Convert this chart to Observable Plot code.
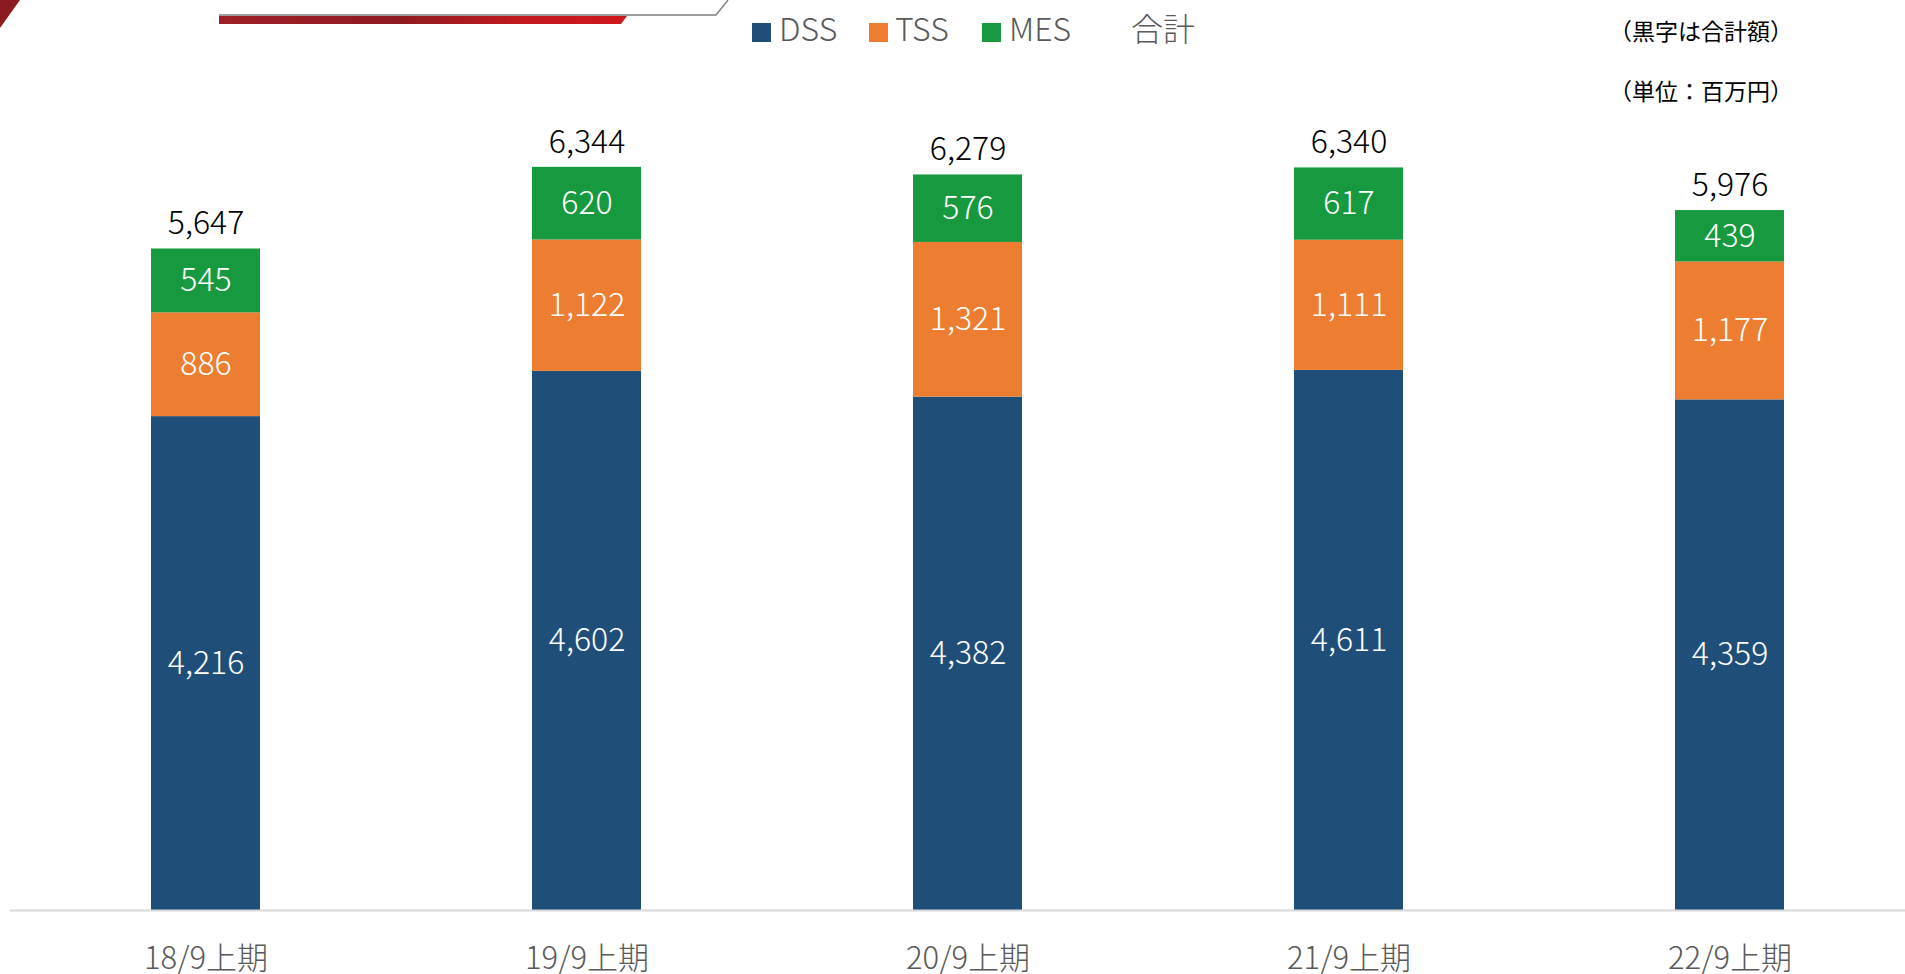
<!DOCTYPE html>
<html><head><meta charset="utf-8">
<script src="https://cdn.jsdelivr.net/npm/d3@7"></script>
<script src="https://cdn.jsdelivr.net/npm/@observablehq/plot@0.6"></script>
<style>
html,body{margin:0;padding:0;background:#fff;overflow:hidden;}
#wrap{position:relative;width:1905px;height:974px;}
#wrap > svg{display:block;}
#overlay{position:absolute;left:0;top:0;}
</style></head><body><div id="wrap"></div>
<script>
const periods = ["18/9上期","19/9上期","20/9上期","21/9上期","22/9上期"];
const seriesNames = ["DSS","TSS","MES"];
const seriesColors = ["#1f4e79","#ed7d31","#17993f"];
const dss = [4216,4602,4382,4611,4359];
const tss = [886,1122,1321,1111,1177];
const mes = [545,620,576,617,439];
const totals = [5647,6344,6279,6340,5976];
const totalLegendLabel = "合計";
const notes = ["（黒字は合計額）","（単位：百万円）"];

const FONT = '"Noto Sans CJK JP", "Noto Sans", sans-serif';
const fmt = d3.format(",");
const seriesValues = [dss, tss, mes];
const rows = [];
seriesNames.forEach((s, i) => periods.forEach((p, j) => rows.push({period: p, series: s, value: seriesValues[i][j]})));
const totalRows = periods.map((p, j) => ({period: p, total: totals[j]}));

const chart = Plot.plot({
  width: 1905, height: 974,
  marginLeft: 10, marginRight: 0, marginTop: 90, marginBottom: 64,
  style: {fontFamily: FONT, background: "#fff", overflow: "visible"},
  x: {domain: periods, paddingInner: 0.7143, paddingOuter: 0.3407, align: 0.537},
  y: {domain: [0, 7000], axis: null},
  color: {domain: seriesNames, range: seriesColors},
  marks: [
    Plot.barY(rows, {x: "period", y: "value", fill: "series", order: seriesNames}),
    Plot.ruleY([0], {stroke: "#d9d9d9", strokeWidth: 2}),
    Plot.text(rows, Plot.stackY({x: "period", y: "value", z: "series", order: seriesNames,
      text: d => fmt(d.value), fill: "white", fontSize: 32, fontWeight: 300})),
    Plot.text(totalRows, {x: "period", y: "total", text: d => fmt(d.total), dy: -25, fill: "#000", fontSize: 32, fontWeight: 300}),
    Plot.axisX({tickSize: 0, tickPadding: 36, fontSize: 31, fontWeight: 300, color: "#595959", label: null})
  ]
});
document.getElementById("wrap").appendChild(chart);

// overlay: decoration, legend, notes
const ov = d3.select("#wrap").append("svg").attr("id", "overlay")
  .attr("width", 1905).attr("height", 120).style("font-family", FONT);
const defs = ov.append("defs");
const g1 = defs.append("linearGradient").attr("id", "redg").attr("x1", "0").attr("x2", "1").attr("y1", "0").attr("y2", "0");
[[0, "#9e1f27"], [0.45, "#8f1b20"], [0.75, "#c4191f"], [1, "#cf171b"]].forEach(([o, c]) => g1.append("stop").attr("offset", o).attr("stop-color", c));
ov.append("polygon").attr("points", "0,0 20,0 0,28").attr("fill", "#8c1a1f");
ov.append("polygon").attr("points", "219,16 627,16 621,24 219,24").attr("fill", "url(#redg)");
ov.append("polyline").attr("points", "219,15 716,15 728,0").attr("fill", "none").attr("stroke", "#7f7f7f").attr("stroke-width", 1.4);

const legendItems = [
  {sq: 752, tx: 779, label: seriesNames[0], color: seriesColors[0]},
  {sq: 869, tx: 895, label: seriesNames[1], color: seriesColors[1]},
  {sq: 982, tx: 1009, label: seriesNames[2], color: seriesColors[2]},
  {sq: null, tx: 1131, label: totalLegendLabel, color: null}
];
legendItems.forEach(it => {
  if (it.sq !== null) ov.append("rect").attr("x", it.sq).attr("y", 23).attr("width", 19).attr("height", 19).attr("fill", it.color);
  ov.append("text").attr("x", it.tx).attr("y", 41).attr("font-size", 32).attr("font-weight", 300).attr("fill", "#595959").text(it.label);
});
notes.forEach((t, i) => {
  ov.append("text").attr("x", 1701).attr("y", 30 + i * 60).attr("dominant-baseline", "central")
    .attr("text-anchor", "middle").attr("font-size", 23).attr("fill", "#000").text(t);
});
</script></body></html>
